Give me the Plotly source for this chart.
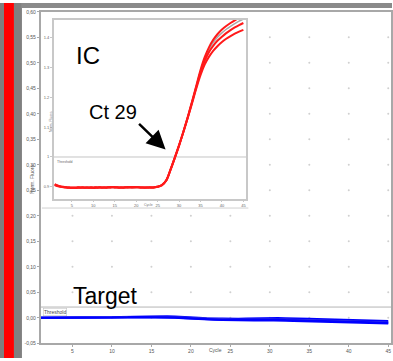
import plotly.graph_objects as go

W, H = 393, 361

# ---------------- data ----------------
cycles = list(range(1, 46))

# Target (main plot) – several blue traces
target_1 = [0.000, 0.000, 0.000, 0.000, 0.000, 0.000, 0.000, 0.000, 0.0005, 0.001,
            0.0015, 0.002, 0.0025, 0.003, 0.003, 0.003, 0.003, 0.0025, 0.002, 0.001,
            0.000, -0.001, -0.0015, -0.002, -0.0025, -0.002, -0.0015, -0.001, -0.0005, -0.0005,
            -0.0005, -0.001, -0.001, -0.0015, -0.002, -0.0025, -0.003, -0.0035, -0.004, -0.0045,
            -0.005, -0.005, -0.0055, -0.006, -0.0065]
target_2 = [0.000, 0.000, 0.000, 0.000, 0.000, 0.000, -0.0005, -0.0005, -0.0005, 0.000,
            0.000, 0.0005, 0.001, 0.001, 0.001, 0.001, 0.0005, 0.000, -0.001, -0.002,
            -0.003, -0.0035, -0.004, -0.0045, -0.005, -0.0055, -0.0055, -0.0055, -0.005, -0.005,
            -0.0055, -0.006, -0.0065, -0.007, -0.0075, -0.008, -0.008, -0.0085, -0.009, -0.0095,
            -0.0095, -0.010, -0.0105, -0.011, -0.0115]
target_3 = [0.000, 0.000, 0.000, 0.000, 0.000, 0.000, 0.000, 0.000, 0.000, 0.0005,
            0.001, 0.0015, 0.002, 0.002, 0.002, 0.002, 0.0015, 0.001, 0.000, -0.001,
            -0.002, -0.0025, -0.003, -0.0035, -0.004, -0.004, -0.0035, -0.003, -0.0025, -0.0025,
            -0.003, -0.0035, -0.004, -0.0045, -0.005, -0.0055, -0.006, -0.0065, -0.007, -0.0075,
            -0.008, -0.008, -0.0085, -0.009, -0.0095]
target_4 = [0.000, 0.000, 0.000, 0.000, 0.000, 0.000, 0.000, 0.000, 0.000, 0.000,
            0.0005, 0.001, 0.0015, 0.0015, 0.0015, 0.0015, 0.001, 0.0005, -0.0005, -0.0015,
            -0.0025, -0.003, -0.0035, -0.004, -0.0045, -0.0045, -0.004, -0.0035, -0.003, -0.003,
            -0.0035, -0.0045, -0.005, -0.0055, -0.006, -0.0065, -0.0065, -0.007, -0.0075, -0.008,
            -0.0085, -0.009, -0.009, -0.0095, -0.010]

# IC (inset) – amplification curves
ic_a = [0.906, 0.901, 0.899, 0.898, 0.897, 0.897, 0.898, 0.898, 0.897, 0.897,
        0.898, 0.898, 0.898, 0.899, 0.899, 0.898, 0.898, 0.899, 0.899, 0.899,
        0.898, 0.898, 0.898, 0.898, 0.900, 0.906, 0.922, 0.958, 0.998, 1.040,
        1.085, 1.133, 1.185, 1.238, 1.292, 1.336, 1.369, 1.394, 1.413, 1.428,
        1.440, 1.450, 1.459, 1.467, 1.474]
ic_b = [0.909, 0.902, 0.898, 0.897, 0.896, 0.896, 0.897, 0.897, 0.897, 0.896,
        0.897, 0.898, 0.897, 0.898, 0.898, 0.898, 0.897, 0.898, 0.898, 0.898,
        0.898, 0.897, 0.898, 0.898, 0.900, 0.905, 0.920, 0.956, 0.996, 1.038,
        1.083, 1.131, 1.182, 1.234, 1.284, 1.324, 1.353, 1.374, 1.391, 1.404,
        1.416, 1.426, 1.435, 1.443, 1.450]
ic_c = [0.907, 0.903, 0.900, 0.898, 0.898, 0.898, 0.898, 0.897, 0.898, 0.898,
        0.898, 0.897, 0.898, 0.898, 0.898, 0.897, 0.898, 0.898, 0.898, 0.899,
        0.898, 0.898, 0.898, 0.898, 0.900, 0.906, 0.921, 0.957, 0.997, 1.039,
        1.084, 1.130, 1.179, 1.229, 1.275, 1.311, 1.337, 1.357, 1.373, 1.386,
        1.397, 1.406, 1.414, 1.421, 1.427]
ic_gray = [0.905, 0.901, 0.899, 0.898, 0.897, 0.897, 0.897, 0.898, 0.898, 0.898,
           0.898, 0.898, 0.898, 0.898, 0.898, 0.898, 0.898, 0.898, 0.898, 0.898,
           0.898, 0.898, 0.898, 0.898, 0.900, 0.906, 0.921, 0.957, 0.997, 1.039,
           1.084, 1.132, 1.184, 1.236, 1.289, 1.331, 1.362, 1.385, 1.403, 1.417,
           1.429, 1.439, 1.448, 1.456, 1.463]

main_threshold = 0.021
ic_threshold = 1.0

main_yticks = [-0.05, 0.00, 0.05, 0.10, 0.15, 0.20, 0.25, 0.30, 0.35, 0.40, 0.45, 0.50, 0.55, 0.60]
main_yticktext = ["-0,05", "0,00", "0,05", "0,10", "0,15", "0,20", "0,25", "0,30",
                  "0,35", "0,40", "0,45", "0,50", "0,55", "0,60"]
main_xticks = [5, 10, 15, 20, 25, 30, 35, 40, 45]
ic_yticks = [0.9, 1.0, 1.1, 1.2, 1.3, 1.4]
ic_xticks = [5, 10, 15, 20, 25, 30, 35, 40, 45]


def px(x):
    return x / W


def py(y):
    return 1 - y / H


fig = go.Figure()

# grid dots of the main chart (intersections of tick positions)
gx, gy = [], []
for xv in main_xticks:
    for yv in main_yticks[1:-1]:
        gx.append(xv)
        gy.append(yv)
fig.add_trace(go.Scatter(x=gx, y=gy, mode="markers", xaxis="x", yaxis="y",
                         marker=dict(size=2, color="#d0d0d0"), hoverinfo="skip",
                         showlegend=False))

# main threshold
fig.add_trace(go.Scatter(x=[1, 45.4], y=[main_threshold, main_threshold], mode="lines",
                         xaxis="x", yaxis="y", line=dict(color="#b4b4b4", width=1),
                         showlegend=False, hoverinfo="skip"))

for ser, col in [(target_1, "#0000ff"), (target_3, "#3a3ad8"), (target_4, "#0000ff"),
                 (target_2, "#0000ff")]:
    fig.add_trace(go.Scatter(x=cycles, y=ser, mode="lines", xaxis="x", yaxis="y",
                             line=dict(color=col, width=2), showlegend=False))

# inset threshold
fig.add_trace(go.Scatter(x=[0.8, 45.7], y=[ic_threshold, ic_threshold], mode="lines",
                         xaxis="x2", yaxis="y2", line=dict(color="#c4c4c4", width=1),
                         showlegend=False, hoverinfo="skip"))
fig.add_trace(go.Scatter(x=cycles, y=ic_gray, mode="lines", xaxis="x2", yaxis="y2",
                         line=dict(color="#a8a8a8", width=1.5, shape="spline"),
                         showlegend=False))
for ser in [ic_a, ic_b, ic_c]:
    fig.add_trace(go.Scatter(x=cycles, y=ser, mode="lines", xaxis="x2", yaxis="y2",
                             line=dict(color="#ff1a1a", width=2, shape="spline"),
                             showlegend=False))

tickfont = dict(family="Liberation Sans, Arial, sans-serif", size=5, color="#555555")
smallfont = dict(family="Liberation Sans, Arial, sans-serif", size=4, color="#666666")

fig.update_layout(
    width=W, height=H,
    margin=dict(l=0, r=0, t=0, b=0),
    paper_bgcolor="white", plot_bgcolor="white",
    showlegend=False,
    xaxis=dict(domain=[px(41), px(392)], range=[1, 45.35], tickvals=main_xticks,
               showgrid=False, zeroline=False, showline=True, mirror=True,
               linecolor="#a8a8a8", linewidth=2, ticks="outside", ticklen=2,
               tickcolor="#a8a8a8", tickfont=tickfont, fixedrange=True),
    yaxis=dict(domain=[py(346), py(9)], range=[-0.05, 0.60], tickvals=main_yticks,
               ticktext=main_yticktext, showgrid=False, zeroline=False, showline=True,
               mirror=True, linecolor="#a8a8a8", linewidth=2, ticks="outside", ticklen=2,
               tickcolor="#a8a8a8", tickfont=tickfont, fixedrange=True),
    xaxis2=dict(domain=[px(54), px(247)], range=[0.8, 45.7], tickvals=ic_xticks,
                anchor="y2", showgrid=False, zeroline=False, showline=True, mirror=True,
                linecolor="#c8c8c8", linewidth=1.5, ticks="outside", ticklen=2,
                tickcolor="#c8c8c8", tickfont=smallfont, fixedrange=True),
    yaxis2=dict(domain=[py(199), py(17)], range=[0.86, 1.461], tickvals=ic_yticks,
                anchor="x2", showgrid=False, zeroline=False, showline=True, mirror=True,
                linecolor="#c8c8c8", linewidth=1.5, ticks="outside", ticklen=2,
                tickcolor="#c8c8c8", tickfont=smallfont, fixedrange=True),
)

shapes = [
    dict(type="rect", xref="paper", yref="paper", x0=0, x1=px(4), y0=0, y1=1,
         fillcolor="#7f7f7f", line=dict(width=0)),
    dict(type="rect", xref="paper", yref="paper", x0=px(4), x1=px(14), y0=0, y1=1,
         fillcolor="#ff0000", line=dict(width=0)),
    dict(type="rect", xref="paper", yref="paper", x0=px(14), x1=px(22), y0=0, y1=1,
         fillcolor="#808080", line=dict(width=0)),
    dict(type="rect", xref="paper", yref="paper", x0=px(22), x1=1, y0=py(5), y1=1,
         fillcolor="#8a8a8a", line=dict(width=0)),
    dict(type="line", xref="paper", yref="paper", x0=px(42), x1=px(249), y0=py(208.5),
         y1=py(208.5), line=dict(color="#d0d0d0", width=1)),
]
fig.update_layout(shapes=shapes)

big = "Liberation Sans, Arial, sans-serif"
annotations = [
    dict(text="IC", x=px(74), y=py(53), xref="paper", yref="paper", xanchor="left",
         yanchor="middle", showarrow=False, font=dict(family=big, size=24, color="black")),
    dict(text="Ct 29", x=px(87), y=py(111), xref="paper", yref="paper", xanchor="left",
         yanchor="middle", showarrow=False, font=dict(family=big, size=20, color="black")),
    dict(text="", x=px(166), y=py(149), ax=-28, ay=-27, xref="paper", yref="paper",
         axref="pixel", ayref="pixel", showarrow=True, arrowhead=2, arrowsize=1.5,
         arrowwidth=2.5, arrowcolor="black"),
    dict(text="Target", x=px(71), y=py(298), xref="paper", yref="paper", xanchor="left",
         yanchor="middle", showarrow=False, font=dict(family=big, size=23, color="black")),
    dict(text="Threshold", x=px(43), y=py(310), xref="paper", yref="paper", xanchor="left",
         yanchor="top", showarrow=False, font=dict(family=big, size=5, color="#444"),
         bordercolor="#bbbbbb", borderwidth=0.5, borderpad=0.5, bgcolor="white"),
    dict(text="Threshold", x=px(55.5), y=py(158), xref="paper", yref="paper", xanchor="left",
         yanchor="top", showarrow=False, font=dict(family=big, size=3.5, color="#666")),
    dict(text="Norm. Fluoro.", x=px(27), y=py(178), xref="paper", yref="paper",
         textangle=-90, showarrow=False, font=dict(family=big, size=5, color="#555")),
    dict(text="Cycle", x=px(216), y=py(357.5), xref="paper", yref="paper",
         showarrow=False, font=dict(family=big, size=5, color="#555")),
    dict(text="Norm. Fluoro.", x=px(46.5), y=py(108), xref="paper", yref="paper",
         textangle=-90, showarrow=False, font=dict(family=big, size=3.5, color="#777")),
    dict(text="Cycle", x=px(149), y=py(205), xref="paper", yref="paper",
         showarrow=False, font=dict(family=big, size=3.5, color="#777")),
]
fig.update_layout(annotations=annotations)

fig.write_html(
    "out.html",
    config={"displayModeBar": False},
    post_script="document.body.style.margin='0px';document.body.style.padding='0px';"
                "document.documentElement.style.overflow='hidden';",
)
